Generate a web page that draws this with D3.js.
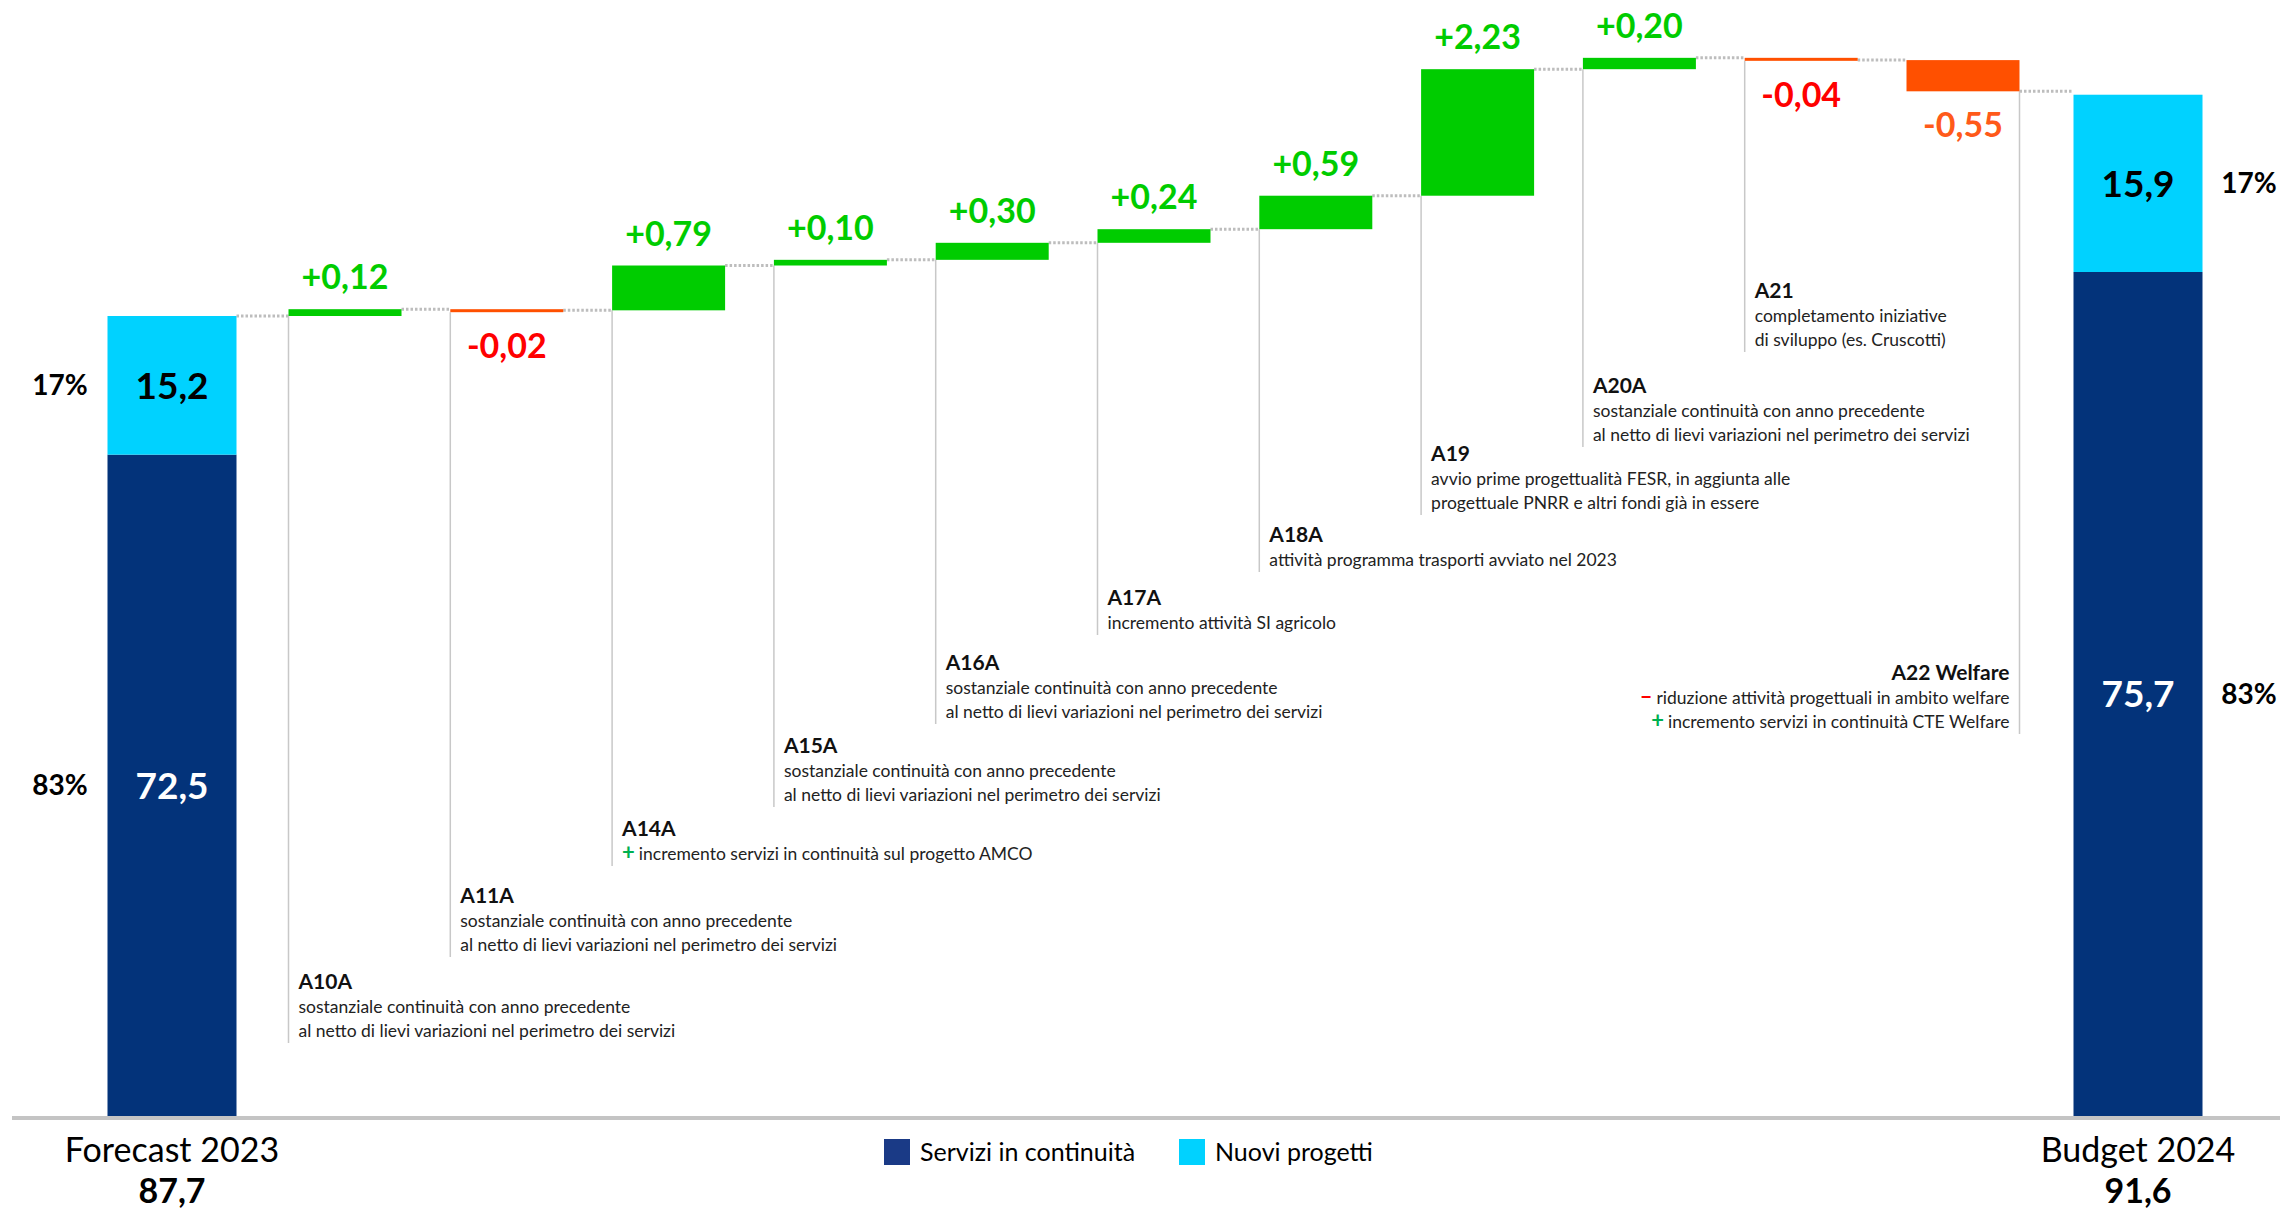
<!DOCTYPE html>
<html>
<head>
<meta charset="utf-8">
<script src="https://cdn.jsdelivr.net/npm/d3@7"></script>
<style>
  html, body { margin: 0; padding: 0; background: #fff; }
  svg { display: block; font-family: Lato, "Open Sans", sans-serif; }
</style>
</head>
<body>
<svg id="chart"></svg>
<script>

// totals (stacked bars)
const totalNames = ["Forecast 2023", "Budget 2024"];
const serviziContinuita = [72.5, 75.7];
const nuoviProgetti = [15.2, 15.9];

// waterfall steps
const stepCodes = ["A10A", "A11A", "A14A", "A15A", "A16A", "A17A", "A18A", "A19", "A20A", "A21", "A22 Welfare"];
const stepValues = [0.12, -0.02, 0.79, 0.10, 0.30, 0.24, 0.59, 2.23, 0.20, -0.04, -0.55];
const continuita = ["sostanziale continuità con anno precedente", "al netto di lievi variazioni nel perimetro dei servizi"];
const stepNotes = [
    continuita,
    continuita,
    ["+incremento servizi in continuità sul progetto AMCO"],
    continuita,
    continuita,
    ["incremento attività SI agricolo"],
    ["attività programma trasporti avviato nel 2023"],
    ["avvio prime progettualità FESR, in aggiunta alle", "progettuale PNRR e altri fondi già in essere"],
    continuita,
    ["completamento iniziative", "di sviluppo (es. Cruscotti)"],
    ["-riduzione attività progettuali in ambito welfare", "+incremento servizi in continuità CTE Welfare"]
];

const legendNames = ["Servizi in continuità", "Nuovi progetti"];

// layout
const W = 2280, H = 1215;
const baseY = 1116;
const noteTitleY = [989, 903, 836, 753, 670, 605, 542, 461, 393, 298, 680];

const colDark = "#03337a", colCyan = "#00d2ff";
const colUp = "#00cc00", colDown = "#ff5000";
const labelDown = { "A22 Welfare": "#ff5a1a" };

const it = d3.formatLocale({ decimal: ",", thousands: ".", grouping: [3], currency: ["€", ""], minus: "-" });
const fmtStep = it.format("+.2f");
const fmtTot = it.format(".1f");

const svg = d3.select("#chart")
    .attr("width", W)
    .attr("height", H);

const xStep = d3.scalePoint().domain(stepCodes).range([345, 1963]);
const xTotal = d3.scalePoint().domain(totalNames).range([172, 2138]);
const stepW = 113, totW = 129;

const yScale = d3.scaleLinear()
    .domain([87.7, 92.3])
    .range([316, 55]);

// cumulative levels
const startTotal = serviziContinuita[0] + nuoviProgetti[0];
let level = startTotal;
const steps = stepCodes.map((c, i) => {
    const s = level;
    level = level + stepValues[i];
    return { code: c, v: stepValues[i], s: s, e: level, notes: stepNotes[i], i: i };
});

// axis line
svg.append("line")
    .attr("x1", 12).attr("x2", W)
    .attr("y1", baseY + 2).attr("y2", baseY + 2)
    .attr("stroke", "#c4c4c4")
    .attr("stroke-width", 4);

// connectors
const conn = svg.append("g")
    .attr("stroke", "#bdbdbd")
    .attr("stroke-width", 3)
    .attr("stroke-dasharray", "2.5 2");

conn.append("line")
    .attr("x1", xTotal(totalNames[0]) + totW / 2)
    .attr("x2", xStep(stepCodes[0]) - stepW / 2)
    .attr("y1", yScale(startTotal)).attr("y2", yScale(startTotal));

steps.forEach((d, i) => {
    const x1 = xStep(d.code) + stepW / 2;
    const x2 = i < steps.length - 1 ? xStep(stepCodes[i + 1]) - stepW / 2 : xTotal(totalNames[1]) - totW / 2;
    conn.append("line")
        .attr("x1", x1).attr("x2", x2)
        .attr("y1", yScale(d.e)).attr("y2", yScale(d.e));
});

// vertical guide lines + notes
const notes = svg.append("g");

steps.forEach((d, i) => {
    const right = i === steps.length - 1;
    const lx = right ? xStep(d.code) + stepW / 2 : xStep(d.code) - stepW / 2;
    const barBottom = Math.max(yScale(d.s), yScale(d.e), yScale(Math.max(d.s, d.e)) + 3);
    const ty = noteTitleY[i];
    const endY = ty + d.notes.length * 24 + 6;

    notes.append("line")
        .attr("x1", lx).attr("x2", lx)
        .attr("y1", barBottom).attr("y2", endY)
        .attr("stroke", "#c8c8c8")
        .attr("stroke-width", 1.5);

    const tx = right ? lx - 10 : lx + 10;
    const anchor = right ? "end" : "start";

    notes.append("text")
        .attr("x", tx).attr("y", ty)
        .attr("text-anchor", anchor)
        .attr("font-size", 21)
        .attr("font-weight", "bold")
        .attr("fill", "#111")
        .text(d.code);

    d.notes.forEach((line, k) => {
        const t = notes.append("text")
            .attr("x", tx).attr("y", ty + 24 * (k + 1))
            .attr("text-anchor", anchor)
            .attr("font-size", 17.5)
            .attr("fill", "#222");
        const mark = line[0];
        if (mark === "+" || mark === "-") {
            t.append("tspan")
                .attr("font-weight", "bold")
                .attr("font-size", 22)
                .attr("fill", mark === "+" ? "#00b050" : "#ff0000")
                .text(mark === "-" ? "\u2013" : "+");
            t.append("tspan").attr("dx", 4).text(line.slice(1));
        } else {
            t.text(line);
        }
    });
});

// step bars
svg.append("g")
    .selectAll("rect")
    .data(steps)
    .join("rect")
    .attr("x", d => xStep(d.code) - stepW / 2)
    .attr("width", stepW)
    .attr("y", d => yScale(Math.max(d.s, d.e)))
    .attr("height", d => Math.max(3, Math.abs(yScale(d.s) - yScale(d.e))))
    .attr("fill", d => d.v >= 0 ? colUp : colDown);

svg.append("g")
    .selectAll("text")
    .data(steps)
    .join("text")
    .attr("x", d => xStep(d.code))
    .attr("y", d => d.v >= 0 ? yScale(d.e) - 20 : Math.max(yScale(d.e), yScale(d.s) + 3) + 46)
    .attr("text-anchor", "middle")
    .attr("font-size", 34)
    .attr("font-weight", "bold")
    .attr("fill", d => d.v >= 0 ? colUp : (labelDown[d.code] || "#ff0000"))
    .text(d => fmtStep(d.v));

// stacked totals
totalNames.forEach((name, i) => {
    const sum = serviziContinuita[i] + nuoviProgetti[i];
    const cx = xTotal(name);
    const seg = d3.scaleLinear().domain([0, sum]).range([baseY, yScale(sum)]);
    const parts = [
        { v0: 0, v1: serviziContinuita[i], fill: colDark, txt: "#fff" },
        { v0: serviziContinuita[i], v1: sum, fill: colCyan, txt: "#000" }
    ];
    parts.forEach(p => {
        const y0 = seg(p.v0), y1 = seg(p.v1);
        const mid = (y0 + y1) / 2;
        svg.append("rect")
            .attr("x", cx - totW / 2)
            .attr("width", totW)
            .attr("y", y1)
            .attr("height", y0 - y1)
            .attr("fill", p.fill);
        svg.append("text")
            .attr("x", cx).attr("y", mid)
            .attr("dy", "0.36em")
            .attr("text-anchor", "middle")
            .attr("font-size", 37)
            .attr("font-weight", "bold")
            .attr("fill", p.txt)
            .text(fmtTot(p.v1 - p.v0));
        svg.append("text")
            .attr("x", i === 0 ? 60 : 2249).attr("y", mid)
            .attr("dy", "0.36em")
            .attr("text-anchor", "middle")
            .attr("font-size", 28)
            .attr("font-weight", "bold")
            .attr("fill", "#000")
            .text(Math.round((p.v1 - p.v0) / sum * 100) + "%");
    });

    svg.append("text")
        .attr("x", cx).attr("y", 1162)
        .attr("text-anchor", "middle")
        .attr("font-size", 34)
        .attr("fill", "#000")
        .text(name);
    svg.append("text")
        .attr("x", cx).attr("y", 1203)
        .attr("text-anchor", "middle")
        .attr("font-size", 34)
        .attr("font-weight", "bold")
        .attr("fill", "#000")
        .text(fmtTot(sum));
});

// legend
const legendX = [884, 1179];
legendNames.forEach((n, i) => {
    svg.append("rect")
        .attr("x", legendX[i]).attr("y", 1139)
        .attr("width", 26).attr("height", 26)
        .attr("fill", i === 0 ? "#1a3a86" : colCyan);
    svg.append("text")
        .attr("x", legendX[i] + 36).attr("y", 1161)
        .attr("font-size", 25)
        .attr("fill", "#000")
        .text(n);
});

</script>
</body>
</html>
